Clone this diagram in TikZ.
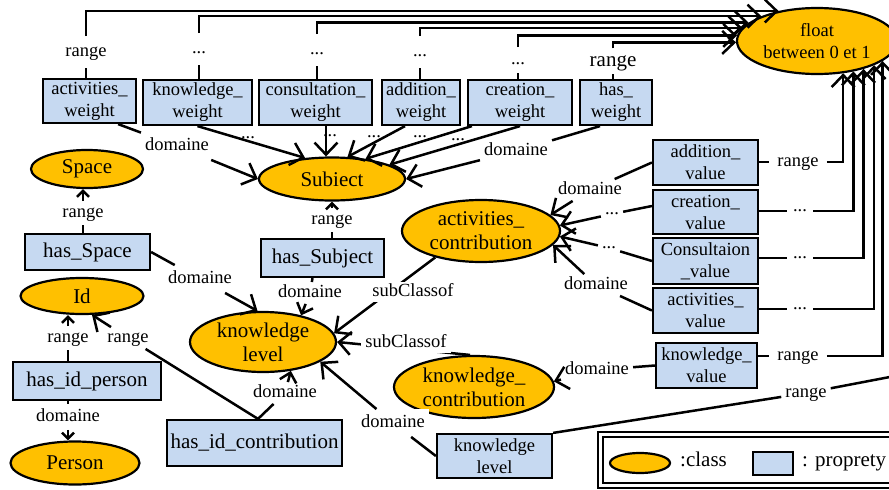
\documentclass[tikz,border=0pt]{standalone}
\usepackage{fontspec}
\setmainfont{Liberation Serif}
\usetikzlibrary{arrows.meta,shapes.geometric}
\definecolor{clsorange}{HTML}{FFC000}
\definecolor{propblue}{HTML}{C6D9F1}
\newcommand{\fb}{\fontsize{21}{24}\selectfont}
\newcommand{\fm}{\fontsize{18.5}{22}\selectfont}
\begin{document}
\begin{tikzpicture}[x=1pt,y=-1pt,
 prop/.style={draw, line width=2.2pt, fill=propblue, inner sep=0pt, align=center, font=\fm},
 cls/.style={ellipse, draw, line width=2.2pt, fill=clsorange, inner sep=0pt, align=center, font=\fb},
 lbl/.style={fill=white, inner xsep=4pt, inner ysep=5pt, text height=13pt, text depth=4.5pt, font=\fm},
 dts/.style={inner sep=0pt, font=\fm},
 conn/.style={line width=2.5pt},
 arr/.style={conn, -{Straight Barb[length=12pt,width=23pt]}},
 arrm/.style={conn, -{Straight Barb[length=9pt,width=17pt]}},
 arrs/.style={conn, -{Straight Barb[length=6pt,width=12pt]}},
]
\useasboundingbox (0,0) rectangle (889,490);
\fill[white] (0,0) rectangle (889,490);
\begin{scope}
\clip (0,0) rectangle (889,490);

% classes
\node[cls, minimum width=160pt, minimum height=66pt, font=\fm] (float) at (817,41) {float\\between 0 et 1};
\node[cls, minimum width=146pt, minimum height=43pt] (subj) at (332,179) {Subiect};
\node[cls, minimum width=112pt, minimum height=38pt] (space) at (87,169) {Space};
\node[cls, minimum width=123pt, minimum height=36pt] (id) at (82,296) {Id};
\node[cls, minimum width=129pt, minimum height=43pt] (person) at (75,463) {Person};
\node[cls, minimum width=146pt, minimum height=60pt] (kl) at (263,342) {knowledge\\level};
\node[cls, minimum width=158pt, minimum height=62pt] (ac) at (481,231) {activities\_\\contribution};
\node[cls, minimum width=160pt, minimum height=62pt] (kc) at (474,387) {knowledge\_\\contribution};

% properties
\node[prop, minimum width=93pt, minimum height=44pt] (aw) at (89.5,101) {activities\_\\weight};
\node[prop, minimum width=109pt, minimum height=45pt] (kw) at (197.5,102.5) {knowledge\_\\weight};
\node[prop, minimum width=113pt, minimum height=45pt] (cw) at (315.5,102.5) {consultation\_\\weight};
\node[prop, minimum width=78pt, minimum height=45pt] (adw) at (421,102.5) {addition\_\\weight};
\node[prop, minimum width=104pt, minimum height=45pt] (crw) at (520,102.5) {creation\_\\weight};
\node[prop, minimum width=72pt, minimum height=45pt] (hw) at (616,102.5) {has\_\\weight};
\node[prop, minimum width=125pt, minimum height=36pt, font=\fb] (hs) at (87.5,252) {has\_Space};
\node[prop, minimum width=123pt, minimum height=38pt, font=\fb] (hsub) at (322.5,258) {has\_Subject};
\node[prop, minimum width=148pt, minimum height=38pt, font=\fb] (hip) at (87,381) {has\_id\_person};
\node[prop, minimum width=175pt, minimum height=46pt, font=\fb] (hic) at (254.5,443) {has\_id\_contribution};
\node[prop, minimum width=115pt, minimum height=44pt] (klb) at (494.5,456) {knowledge\\level};
\node[prop, minimum width=101pt, minimum height=45pt] (kv) at (706.5,365.5) {knowledge\_\\value};
\node[prop, minimum width=105pt, minimum height=45pt] (adv) at (705.5,162.5) {addition\_\\value};
\node[prop, minimum width=105pt, minimum height=44pt] (crv) at (705.5,212) {creation\_\\value};
\node[prop, minimum width=105pt, minimum height=46pt] (cov) at (705.5,261) {Consultaion\\\_value};
\node[prop, minimum width=105pt, minimum height=45pt] (acv) at (705.5,310.5) {activities\_\\value};

% labels
\node[lbl, inner ysep=7pt] (lr1) at (86,52) {range};
\node[lbl, inner ysep=7pt] (dk) at (199,49) {...};
\node[lbl, inner ysep=7pt] (dc) at (317,50) {...};
\node[lbl, inner ysep=7pt] (dad) at (420,52) {...};
\node[lbl, inner ysep=4pt] (dcr) at (518,60) {...};
\node[lbl, font=\fb, text height=15pt, text depth=5pt, inner ysep=2.5pt] (lrh) at (613,61) {range};
\node[lbl] (ldaw) at (177,146) {domaine};
\node[lbl] (ldhw) at (516,151) {domaine};
\node[lbl, inner ysep=3pt] (lrs) at (332,220) {range};
\node[lbl, inner ysep=2pt] (ldsub) at (310,293) {domaine};
\node[lbl, inner ysep=3pt] (lrsp) at (83,213) {range};
\node[lbl] (ldsp) at (200,279) {domaine};
\node[lbl, inner ysep=3pt] (lri) at (68,338) {range};
\node[lbl, inner ysep=4pt] (ldp) at (68,417) {domaine};
\node[lbl, inner ysep=2pt] (lric) at (128,338) {range};
\node[lbl, inner ysep=2pt] (ldic) at (285,393) {domaine};
\node[lbl] (ldklb) at (393,423) {domaine};
\node[lbl] (lrklb) at (806,393) {range};
\node[lbl] (ldkv) at (597,370) {domaine};
\node[lbl, inner xsep=8pt] (lrkv) at (798,356) {range};
\node[lbl, inner xsep=8pt] (lradv) at (798,162) {range};
\node[lbl, inner xsep=6pt] (dcrv) at (800,211) {\raisebox{4pt}{...}};
\node[lbl, inner xsep=6pt] (dcov) at (800,258) {\raisebox{4pt}{...}};
\node[lbl, inner xsep=6pt] (dacv) at (800,309) {\raisebox{4pt}{...}};
\node[lbl, inner ysep=2pt] (ldadv) at (590,190) {domaine};
\node[lbl, inner ysep=2pt] (dcrv2) at (612,214) {\raisebox{4pt}{...}};
\node[lbl, inner ysep=2pt] (dcov2) at (609,248) {\raisebox{4pt}{...}};
\node[lbl, inner ysep=2pt] (ldacv) at (596,285) {domaine};
\coordinate (edge) at (895,376);

% weights to float
\draw[arr] (aw.north -| lr1) -- (lr1) |- (float.142.8);
\draw[arr] (kw.north -| dk) -- (dk) |- (float.156.4);
\draw[arr] (cw.north -| dc) -- (dc) |- (float.165);
\draw[arr] (adw.north -| dad) -- (dad) |- (float.170.9);
\draw[arr] (crw.north -| dcr) -- (dcr) |- (float.176.4);
\draw[arr] (hw.north -| lrh) -- (lrh) |- (float.181.4);

% weights to Subiect
\draw[arr] ([xshift=-19pt]aw.south east) -- (ldaw) -- (subj.west);
\draw[arr] (kw.south) -- (subj.142);
\draw[arr] ([xshift=10.5pt]cw.south) -- ([xshift=-6pt]subj.north);
\draw[arr] ([xshift=-16pt]adw.south) -- (subj.55);
\draw[arr] ([xshift=5pt]crw.south west) -- (subj.31);
\draw[arr] (crw.south) -- (subj.14);
\draw[arr] ([xshift=-16pt]hw.south) -- (ldhw) -- (subj.east);
\node[dts] (dks) at (248,138) {...};
\node[dts] (dcs) at (330,136) {...};
\node[dts] (dads) at (374,137) {...};
\node[dts] (dcr1s) at (420,137) {...};
\node[dts] (dcr2s) at (458,140) {...};

% left part
\draw[arrs] (hsub.north -| subj.south) -- (lrs) -- (subj.south);
\draw[arrm] ([xshift=-10pt]hsub.south) -- (ldsub) -- (kl.35);
\draw[arrs] (hs.north -| lrsp) -- (lrsp) -- (space.south -| lrsp);
\draw[arr] (hs.east) -- (ldsp) -- (kl.100);
\draw[arrs] (hip.north -| lri) -- (lri) -- (id.south -| lri);
\draw[arrs] (hip.south -| ldp) -- (ldp) -- (person.north -| ldp);
\draw[arr] ([xshift=3.5pt]hic.north) -- (lric) -- (id.298);
\draw[arrm] ([xshift=3.5pt]hic.north) -- (ldic) -- (kl.314);
\draw[arr] (klb.west) -- (ldklb) -- (kl.341);
\draw[conn] (klb.north east) -- (lrklb) -- (edge);

% subclass
\draw[arr] (ac.210) -- (kl.7);
\draw[arr] (kc.97) -- (kl.east);
\node[lbl, inner ysep=1pt] (lsc1) at (413,292) {subClassof};
\node[lbl, inner ysep=1pt] (lsc2) at (406,343) {subClassof};

% values
\draw[arr] (kv.west) -- (ldkv) -- (kc.4);
\draw[arr] (kv.east |- lrkv) -- (lrkv) -| (float.343.5);
\draw[arr] (adv.east |- lradv) -- (lradv) -| (float.309.8);
\draw[arr] (crv.east |- dcrv) -- (dcrv) -| (float.320.7);
\draw[arr] (cov.east |- dcov) -- (dcov) -| (float.329.6);
\draw[arr] (acv.east |- dacv) -- (dacv) -| (float.337.2);
\draw[arr] (adv.west) -- (ldadv) -- (ac.13);
\draw[arr] ([yshift=6pt]crv.west) -- (dcrv2) -- (ac.4);
\draw[arr] (cov.west) -- (dcov2) -- (ac.356);
\draw[arr] (acv.west) -- (ldacv) -- (ac.349);

% legend
\draw[line width=2.2pt] (598,432) rectangle (900,488);
\draw[line width=2.2pt] (603,437) rectangle (900,483);
\node[cls, minimum width=60pt, minimum height=20pt] (lgc) at (640,463) {};
\node[font=\fb, anchor=base west, inner sep=0pt] (lgct) at (680,466) {:class};
\node[prop, minimum width=40pt, minimum height=23pt] (lgp) at (773,463.5) {};
\node[font=\fb, anchor=base west, inner sep=0pt] (lgpt) at (802,466) {: proprety};
\end{scope}
\end{tikzpicture}
\end{document}
